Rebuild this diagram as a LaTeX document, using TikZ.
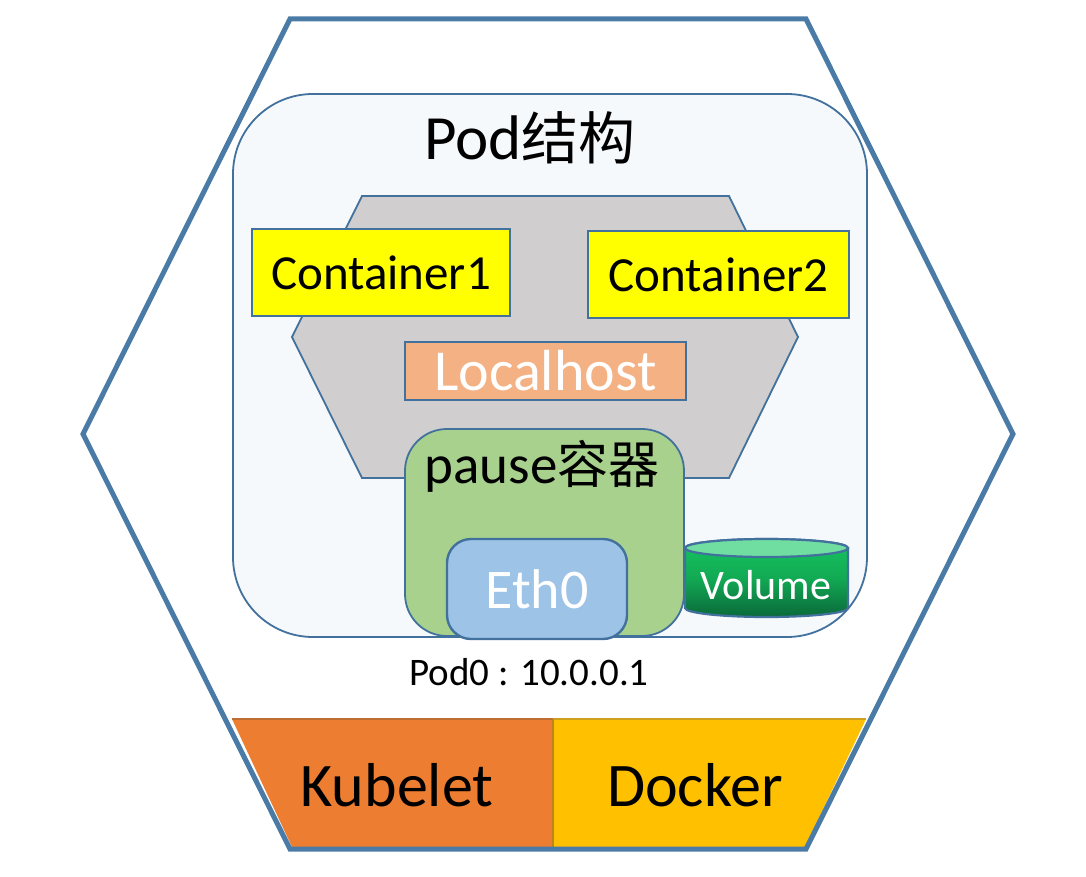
\documentclass[tikz,border=0pt]{standalone}
\usepackage{fontspec}
\setmainfont{Carlito}
\newfontfamily\cjk{Noto Sans CJK SC}
\newcommand{\fs}[1]{\fontsize{#1}{#1}\selectfont}
\definecolor{edgeblue}{HTML}{41719C}
\definecolor{outerblue}{HTML}{4A7BA6}
\definecolor{boxyellow}{RGB}{255,255,0}
\tikzset{
  boxline/.style={draw=edgeblue,line width=1.8pt},
  yellowbox/.style={boxline,fill=boxyellow,inner sep=0pt,font=\fs{49},text=black},
  lbl/.style={inner sep=0pt,text=black},
}
\begin{document}
\begin{tikzpicture}[x=1pt,y=-1pt]
\useasboundingbox (0,0) rectangle (1086,877);
\fill[white] (0,0) rectangle (1086,877);
% bottom segments
\fill[fill={rgb,255:red,237;green,125;blue,49}] (232,719) -- (553,719) -- (553,847) -- (292,847) -- cycle;
\fill[fill={rgb,255:red,255;green,192;blue,0}] (553,719) -- (866,719) -- (805,847) -- (553,847) -- cycle;
\draw[line width=2pt,draw={rgb,255:red,190;green,110;blue,50}] (232,719) -- (553,719);
\draw[line width=2pt,draw={rgb,255:red,205;green,160;blue,30}] (553,719) -- (866,719);
\draw[line width=2.5pt,draw={rgb,255:red,185;green,135;blue,30}] (553,719) -- (553,847);
% outer hexagon
\draw[outerblue,line width=5pt,miter limit=10] (290,19) -- (806,19) -- (1013,434) -- (806,849) -- (290,849) -- (83,434) -- cycle;
% pod box
\node[boxline,fill={rgb,255:red,245;green,249;blue,252},rounded corners=80pt,minimum width=634pt,minimum height=543pt,inner sep=0pt] (pod) at (550,365.5) {};
\node[lbl,font=\fs{63}] (podt) at (530,138) {Pod{\cjk\fs{57}结构}};
% inner hexagon
\draw[boxline,fill={rgb,255:red,208;green,206;blue,206}] (362,196) -- (729,196) -- (798,337) -- (729,478) -- (362,478) -- (292,337) -- cycle;
\node[yellowbox,minimum width=258pt,minimum height=87pt] (c1) at (381,272.5) {Container1};
\node[yellowbox,minimum width=261pt,minimum height=87pt] (c2) at (718.5,274.5) {Container2};
\node[boxline,fill={rgb,255:red,244;green,177;blue,131},minimum width=281pt,minimum height=58pt,inner sep=0pt,text=white,font=\fs{58}] (lh) at (545.5,371) {Localhost};
% pause
\node[boxline,fill={rgb,255:red,169;green,209;blue,142},rounded corners=42pt,minimum width=279pt,minimum height=207pt,inner sep=0pt] (pause) at (544.5,532.5) {};
\node[lbl,font=\fs{55}] (pauset) at (542,466) {pause{\cjk\fs{51}容器}};
\node[boxline,line width=2.4pt,fill={rgb,255:red,157;green,195;blue,230},rounded corners=24pt,minimum width=180pt,minimum height=100pt,inner sep=0pt,text=white,font=\fs{56}] (eth) at (537,589) {Eth0};
% volume
\draw[boxline,line width=2.2pt,top color={rgb,255:red,22;green,196;blue,96},bottom color={rgb,255:red,10;green,105;blue,58},middle color={rgb,255:red,18;green,170;blue,84}]
  (685,548) -- (685,608) arc[start angle=180,end angle=360,x radius=81.5pt,y radius=9pt] -- (848,548) arc[start angle=0,end angle=180,x radius=81.5pt,y radius=9pt] -- cycle;
\draw[boxline,line width=2.2pt,fill={rgb,255:red,112;green,222;blue,160}] (766.5,548) ellipse[x radius=81.5pt,y radius=9pt];
\node[lbl,text=white,font=\fs{42}] (vol) at (766,585) {Volume};
\node[lbl,font=\fs{39}] (ip) at (529,672) {Pod0 : 10.0.0.1};
\node[lbl,font=\fs{62}] (ku) at (397,785) {Kubelet};
\node[lbl,font=\fs{62}] (dk) at (695,785) {Docker};
\end{tikzpicture}
\end{document}
